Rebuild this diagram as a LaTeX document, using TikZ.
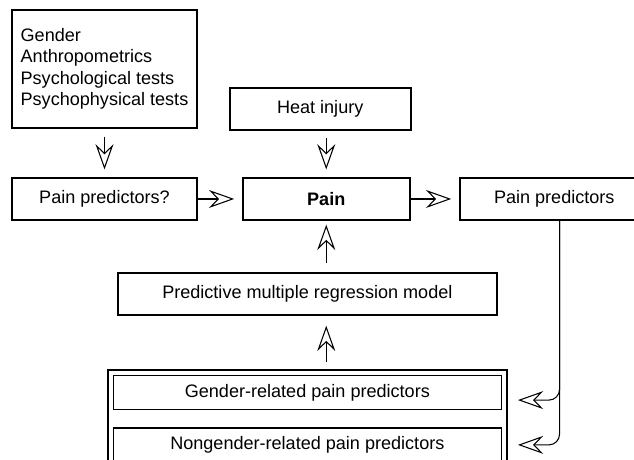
\documentclass[tikz,border=0pt]{standalone}
\usepackage{fontspec}
\setmainfont{Liberation Sans}
\usetikzlibrary{arrows.meta,positioning,calc,fit}

\begin{document}
\begin{tikzpicture}[
  font=\fontsize{13.6pt}{16.2pt}\selectfont,
  box/.style={draw, line width=1.5pt, align=center, minimum height=1.11cm, inner sep=3pt},
  sub/.style={draw, line width=1pt, minimum width=10.27cm, minimum height=0.9cm},
  frame/.style={draw, line width=1.5pt, inner sep=0.12cm},
  arr/.style={-{Stealth[open, length=19pt, width=13.5pt, inset=6.5pt]}, line width=0.8pt, shorten >=0.2cm},
  node distance=1.16cm
]
\useasboundingbox (0,0) rectangle (16.776,-12.171);
\node[box, minimum width=4.89cm] (ppq) at (2.765,-5.265) {Pain predictors?};
\node[box, minimum width=4.42cm, right=1.16cm of ppq] (pain) {\textbf{Pain}};
\node[box, minimum width=5.0cm, right=1.27cm of pain] (pp) {Pain predictors};
\node[box, minimum width=4.79cm, above=1.22cm of pain, xshift=-0.16cm] (heat) {Heat injury};
\node[box, minimum width=4.92cm, minimum height=3.12cm, align=left, above=1.27cm of ppq] (factors) {Gender\\Anthropometrics\\Psychological tests\\Psychophysical tests};
\node[box, minimum width=10.03cm, below=1.35cm of pain, xshift=-0.5cm] (reg) {Predictive multiple regression model};
\node[sub, below=1.56cm of reg] (gend) {Gender-related pain predictors};
\node[sub, below=0.45cm of gend] (nongend) {Nongender-related pain predictors};
\node[frame, fit=(gend) (nongend)] (group) {};
\draw[arr, shorten <=0.2cm] (factors.south) -- (ppq.north);
\draw[arr, shorten <=0.19cm] (heat.south -| pain.north) -- (pain.north);
\draw[arr] (ppq) -- (pain); \draw[arr] (pain) -- (pp);
\draw[arr, shorten <=0.24cm, shorten >=0.1cm] (reg.north -| pain.south) -- (pain.south);
\draw[arr, shorten <=0.2cm, shorten >=0.26cm] (group.north -| pain.south) -- (reg.south -| pain.south);
\draw[arr, rounded corners=8pt, shorten >=0.42cm] ([xshift=0.14cm]pp.south) |- ([yshift=-0.2cm]gend.east);
\draw[arr, rounded corners=8pt, shorten >=0.42cm] ([xshift=0.14cm]pp.south) |- (nongend.east);
\end{tikzpicture}
\end{document}
